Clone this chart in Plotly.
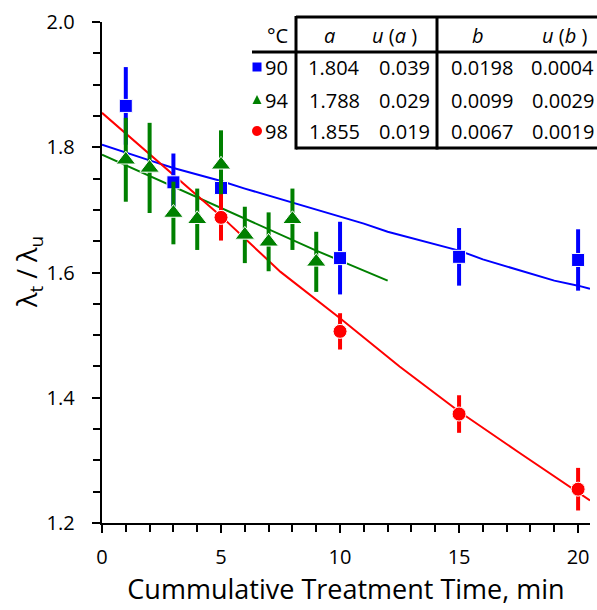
import plotly.graph_objects as go

# ---- data ----
blue_t = [1, 3, 5, 10, 15, 20]
blue_y = [1.866, 1.744, 1.735, 1.623, 1.625, 1.620]
blue_err = [0.062, 0.046, 0.035, 0.058, 0.046, 0.049]

green_t = [1, 2, 3, 4, 5, 6, 7, 8, 9]
green_y = [1.780, 1.767, 1.695, 1.685, 1.772, 1.660, 1.649, 1.685, 1.617]
green_err = [0.067, 0.072, 0.050, 0.049, 0.055, 0.045, 0.047, 0.049, 0.048]

red_t = [5, 10, 15, 20]
red_y = [1.688, 1.506, 1.374, 1.254]
red_err = [0.037, 0.029, 0.030, 0.034]

blue_fit_t = [0, 1, 2, 3, 4, 5, 6, 7, 8, 9, 10, 11, 12, 13, 14, 15, 16, 17, 18, 19, 20, 20.5]
blue_fit_y = [1.804, 1.791, 1.779, 1.767, 1.757, 1.746, 1.734, 1.723, 1.712, 1.700, 1.690,
              1.678, 1.665, 1.655, 1.645, 1.635, 1.621, 1.610, 1.599, 1.587, 1.579, 1.574]

green_fit_t = [0, 1, 2, 3, 4, 5, 6, 7, 8, 9, 10, 11, 12]
green_fit_y = [1.788, 1.771, 1.754, 1.737, 1.719, 1.702, 1.685, 1.668, 1.651, 1.635, 1.619, 1.603, 1.587]

red_fit_t = [0, 2.5, 5, 7.5, 10, 12.5, 15, 17.5, 20, 20.5]
red_fit_y = [1.855, 1.772, 1.690, 1.601, 1.527, 1.450, 1.378, 1.313, 1.250, 1.236]

temps = ["90", "94", "98"]
a_vals = ["1.804", "1.788", "1.855"]
ua_vals = ["0.039", "0.029", "0.019"]
b_vals = ["0.0198", "0.0099", "0.0067"]
ub_vals = ["0.0004", "0.0029", "0.0019"]

x_ticks = [0, 5, 10, 15, 20]
y_ticks = [1.2, 1.4, 1.6, 1.8, 2.0]

BLUE = "#0000FF"
GREEN = "#008000"
RED = "#FF0000"
FONT = "Open Sans"

W, H = 597, 610
L, R, T, B = 102, 7, 22, 87
PW = W - L - R
PH = H - T - B


def px(x):
    return (x - L) / PW


def py(y):
    return (H - B - y) / PH


fig = go.Figure()

# fit lines
fig.add_trace(go.Scatter(x=blue_fit_t, y=blue_fit_y, mode="lines",
                         line=dict(color=BLUE, width=2), showlegend=False))
fig.add_trace(go.Scatter(x=green_fit_t, y=green_fit_y, mode="lines",
                         line=dict(color=GREEN, width=2), showlegend=False))
fig.add_trace(go.Scatter(x=red_fit_t, y=red_fit_y, mode="lines",
                         line=dict(color=RED, width=2), showlegend=False))

# data points
fig.add_trace(go.Scatter(x=blue_t, y=blue_y, mode="markers",
                         marker=dict(symbol="square", size=13, color=BLUE,
                                     line=dict(color="white", width=1)),
                         error_y=dict(type="data", array=blue_err, color=BLUE,
                                      thickness=4, width=0),
                         showlegend=False))
fig.add_trace(go.Scatter(x=green_t, y=green_y, mode="markers",
                         marker=dict(symbol="triangle-up", size=17, color=GREEN,
                                     line=dict(color="white", width=1)),
                         error_y=dict(type="data", array=green_err, color=GREEN,
                                      thickness=4, width=0),
                         showlegend=False))
fig.add_trace(go.Scatter(x=red_t, y=red_y, mode="markers",
                         marker=dict(symbol="circle", size=14, color=RED,
                                     line=dict(color="white", width=1)),
                         error_y=dict(type="data", array=red_err, color=RED,
                                      thickness=4, width=0),
                         showlegend=False))

shapes = []
LW = 3
right_edge = px(605)
# table border lines
shapes.append(dict(type="line", xref="paper", yref="paper", x0=px(296), x1=right_edge,
                   y0=py(17), y1=py(17), line=dict(color="black", width=LW)))
shapes.append(dict(type="line", xref="paper", yref="paper", x0=px(296), x1=right_edge,
                   y0=py(148), y1=py(148), line=dict(color="black", width=LW)))
shapes.append(dict(type="line", xref="paper", yref="paper", x0=px(252), x1=right_edge,
                   y0=py(52), y1=py(52), line=dict(color="black", width=LW)))
shapes.append(dict(type="line", xref="paper", yref="paper", x0=px(296), x1=px(296),
                   y0=py(16), y1=py(149.5), line=dict(color="black", width=LW)))
shapes.append(dict(type="line", xref="paper", yref="paper", x0=px(437), x1=px(437),
                   y0=py(16), y1=py(149.5), line=dict(color="black", width=LW)))

# legend markers in the table
mx = 257
shapes.append(dict(type="rect", xref="paper", yref="paper", x0=px(mx - 4.5), x1=px(mx + 4.5),
                   y0=py(67 + 4.5), y1=py(67 - 4.5), fillcolor=BLUE, line=dict(width=0)))
ty = 100
shapes.append(dict(type="path", xref="paper", yref="paper",
                   path=f"M {px(mx - 4.5)} {py(ty + 4)} L {px(mx + 4.5)} {py(ty + 4)} L {px(mx)} {py(ty - 5)} Z",
                   fillcolor=GREEN, line=dict(width=0)))
cy = 131
shapes.append(dict(type="circle", xref="paper", yref="paper", x0=px(mx - 5), x1=px(mx + 5),
                   y0=py(cy + 5), y1=py(cy - 5), fillcolor=RED, line=dict(width=0)))

annotations = []
TS = 20


def txt(x, y, s, anchor="center", size=TS, angle=0):
    annotations.append(dict(x=px(x), y=py(y), xref="paper", yref="paper", text=s,
                            showarrow=False, xanchor=anchor, yanchor="middle", textangle=angle,
                            font=dict(family=FONT, size=size, color="black")))


txt(290, 35, "°C", "right")
txt(329, 35, "<i>a</i>")
txt(394, 35, "<i>u</i> (<i>a</i> )")
txt(478, 35, "<i>b</i>")
txt(564, 35, "<i>u</i> (<i>b</i> )")
row_y = [67, 100, 131]
for i in range(3):
    txt(290, row_y[i], temps[i], "right")
    txt(334, row_y[i], a_vals[i])
    txt(432, row_y[i], ua_vals[i], "right")
    txt(482, row_y[i], b_vals[i])
    txt(596, row_y[i], ub_vals[i], "right")

# y-axis title
txt(28, 272, "λ<sub>t</sub> / λ<sub>u</sub>", "center", size=27, angle=-90)

fig.update_layout(
    width=W, height=H,
    margin=dict(l=L, r=R, t=T, b=B, pad=0),
    paper_bgcolor="white", plot_bgcolor="white",
    font=dict(family=FONT, color="black"),
    shapes=shapes, annotations=annotations,
    showlegend=False,
)
fig.update_xaxes(
    range=[0, 20.5], tickvals=x_ticks, ticktext=[str(v) for v in x_ticks],
    showgrid=False, zeroline=False, showline=True, linecolor="black", linewidth=2,
    ticks="outside", ticklen=8, tickwidth=2, tickcolor="black",
    minor=dict(dtick=1, ticks="outside", ticklen=7, tickwidth=2, tickcolor="black", showgrid=False),
    tickfont=dict(family=FONT, size=20, color="black"), ticklabelstandoff=7,
    title=dict(text="Cummulative Treatment Time, min", font=dict(family=FONT, size=27, color="black"),
               standoff=2),
)
fig.update_yaxes(
    range=[1.2, 2.0], tickvals=y_ticks, ticktext=[f"{v:.1f}\u2002\u2009" for v in y_ticks],
    showgrid=False, zeroline=False, showline=True, linecolor="black", linewidth=2,
    ticks="outside", ticklen=8, tickwidth=2, tickcolor="black",
    minor=dict(dtick=0.05, tick0=1.2, ticks="outside", ticklen=7, tickwidth=2, tickcolor="black", showgrid=False),
    tickfont=dict(family=FONT, size=20, color="black"),
)

fig.write_html("out.html")
